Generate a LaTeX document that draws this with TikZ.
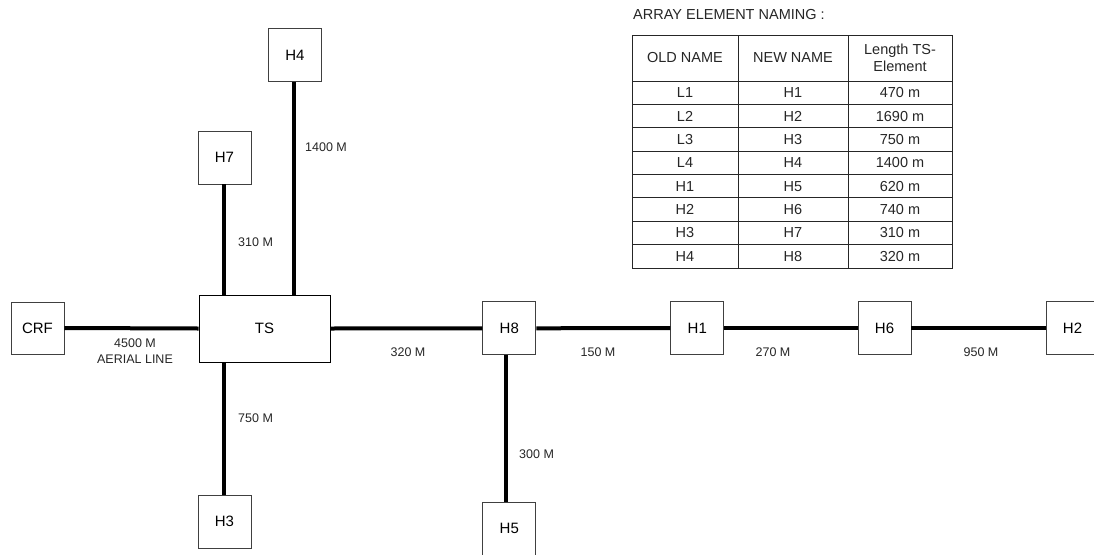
\documentclass[tikz,border=0pt]{standalone}
\usepackage{fontspec}
\setmainfont{Liberation Sans}
\begin{document}
\begin{tikzpicture}[x=1pt,y=-1pt,
  box/.style={draw=black!75, line width=0.9pt, fill=white, minimum width=53pt, minimum height=53pt, inner sep=0pt, font=\fontsize{15}{18}\selectfont},
  bigbox/.style={box, draw=black, minimum width=131pt, minimum height=67pt},
  wire/.style={line width=4pt},
  lbl/.style={font=\fontsize{12.5}{16}\selectfont, inner sep=0pt, text=black!85},
  cell/.style={font=\fontsize{14.5}{17}\selectfont, inner sep=0pt, text=black!85, align=center},
  grid/.style={line width=0.9pt, draw=black!85}]
\useasboundingbox (0,0) rectangle (1094,554);

% nodes
\node[box, minimum height=52pt] (CRF) at (37.5,328) {CRF};
\node[bigbox] (TS) at (264.5,328.5) {TS};
\node[box] (H4) at (295,55) {H4};
\node[box] (H7) at (224.5,157.5) {H7};
\node[box] (H3) at (224.5,521.5) {H3};
\node[box] (H8) at (509.3,328.3) {H8};
\node[box] (H5) at (509.3,528.5) {H5};
\node[box] (H1) at (697.3,328) {H1};
\node[box] (H6) at (884.5,328) {H6};
\node[box] (H2) at (1072.5,328) {H2};

% wires
\draw[wire] (CRF.east) -- (TS.west);
\draw[wire] (TS.east) -- (H8.west);
\draw[wire] (H8.east) -- (H1.west);
\draw[wire] (H1.east) -- (H6.west);
\draw[wire] (H6.east) -- (H2.west);
\draw[wire] ([xshift=-0.5pt]H7.south) -- ([xshift=-0.5pt]H7.south |- TS.north);
\draw[wire] ([xshift=-0.7pt]H4.south) -- ([xshift=-0.7pt]H4.south |- TS.north);
\draw[wire] ([xshift=-0.5pt]H3.north) -- ([xshift=-0.5pt]H3.north |- TS.south);
\draw[wire] ([xshift=-3.3pt]H8.south) -- ([xshift=-3.3pt]H8.south |- H5.north);

% edge labels
\node[lbl, align=center] (l1) at (135,351) {4500 M\\AERIAL LINE};
\node[lbl] (l2) at (408,352) {320 M};
\node[lbl] (l3) at (598,352) {150 M};
\node[lbl] (l4) at (773,352) {270 M};
\node[lbl] (l5) at (981,352) {950 M};
\node[lbl, anchor=west] (l6) at (305,147) {1400 M};
\node[lbl, anchor=west] (l7) at (238,242) {310 M};
\node[lbl, anchor=west] (l8) at (238,418) {750 M};
\node[lbl, anchor=west] (l9) at (519,454) {300 M};

% table
\node[cell, anchor=west] (title) at (633,15) {ARRAY ELEMENT NAMING :};
\draw[grid] (632,35) rectangle (952,268);
\draw[grid] (738,35) -- (738,268);
\draw[grid] (848,35) -- (848,268);
\draw[grid] (632,81) -- (952,81);
\foreach \i in {1,...,7} {
  \draw[grid] (632,81+23.375*\i) -- (952,81+23.375*\i);
}
\node[cell] (hA) at (685,58) {OLD NAME};
\node[cell] (hB) at (793,58) {NEW NAME};
\node[cell, font=\fontsize{14.5}{16.5}\selectfont] (hC) at (900,58) {Length TS-\\Element};
\foreach \o/\n/\l [count=\i from 0] in {L1/H1/470 m, L2/H2/1690 m, L3/H3/750 m, L4/H4/1400 m, H1/H5/620 m, H2/H6/740 m, H3/H7/310 m, H4/H8/320 m} {
  \node[cell] (a\i) at (685,81+23.375*\i+11.7) {\o};
  \node[cell] (b\i) at (793,81+23.375*\i+11.7) {\n};
  \node[cell] (c\i) at (900,81+23.375*\i+11.7) {\l};
}
\end{tikzpicture}
\end{document}
